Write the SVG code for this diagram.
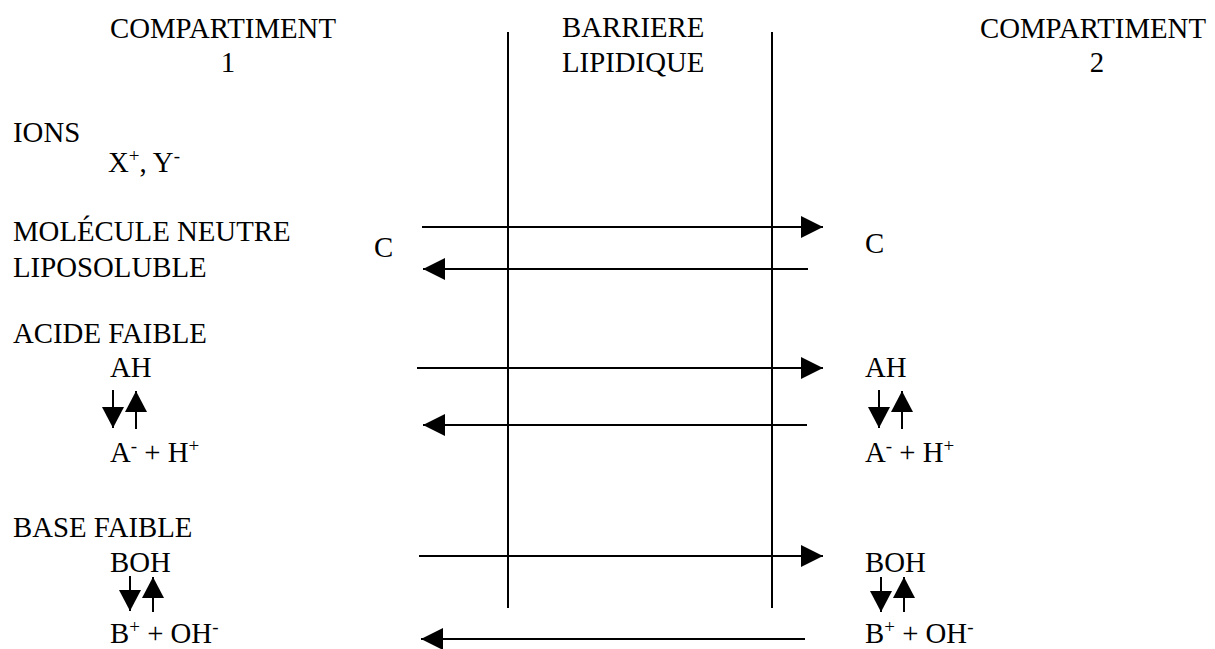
<svg xmlns="http://www.w3.org/2000/svg" width="1215" height="649" viewBox="0 0 1215 649">
<style>
text{font-family:'Liberation Serif','Times New Roman','DejaVu Serif',serif;font-size:28.8px;fill:#000}
.sup{font-size:19px}
.ln{stroke:#000;stroke-width:2;fill:none}
.arr{stroke:#000;stroke-width:2;fill:none;marker-end:url(#ah)}
.eq{stroke:#000;stroke-width:2;fill:none;marker-end:url(#ahs)}
</style>
<defs>
<marker id="ah" markerUnits="userSpaceOnUse" markerWidth="22" markerHeight="22" viewBox="0 0 20 20" refX="20" refY="10" orient="auto">
<path d="M0,0 L20,10 L0,20 Z" fill="#000"/>
</marker>
<marker id="ahs" markerUnits="userSpaceOnUse" markerWidth="22" markerHeight="22" viewBox="0 0 20 21" refX="20" refY="10.5" orient="auto">
<path d="M0,0 L20,10.5 L0,21 Z" fill="#000"/>
</marker>
</defs>
<rect width="1215" height="649" fill="#fff"/>
<g id="barrier">
<line class="ln" x1="508" y1="32" x2="508" y2="608"/>
<line class="ln" x1="772" y1="32" x2="772" y2="608"/>
</g>
<g font-family="Liberation Serif, Times New Roman, serif">
<g id="header-c1">
<text x="223" y="38" text-anchor="middle">COMPARTIMENT</text>
<text x="228" y="72" text-anchor="middle">1</text>
</g>
<g id="header-barrier">
<text x="562" y="37">BARRIERE</text>
<text x="562" y="72">LIPIDIQUE</text>
</g>
<g id="header-c2">
<text x="1093" y="38" text-anchor="middle">COMPARTIMENT</text>
<text x="1097" y="72" text-anchor="middle">2</text>
</g>
<g id="ions">
<text x="13" y="142">IONS</text>
<text x="108" y="172">X<tspan class="sup" dy="-10">+</tspan><tspan dy="10">, Y</tspan><tspan class="sup" dy="-10">-</tspan></text>
</g>
<g id="neutre">
<text x="13" y="241">MOLÉCULE NEUTRE</text>
<text x="13" y="277">LIPOSOLUBLE</text>
<text x="374" y="257">C</text>
<text x="865" y="253">C</text>
</g>
<g id="acide-1">
<text x="13" y="343">ACIDE FAIBLE</text>
<text x="110" y="377">AH</text>
<text x="110" y="462">A<tspan class="sup" dy="-10">-</tspan><tspan dy="10"> + H</tspan><tspan class="sup" dy="-10">+</tspan></text>
</g>
<g id="acide-2">
<text x="865" y="377">AH</text>
<text x="865" y="462">A<tspan class="sup" dy="-10">-</tspan><tspan dy="10"> + H</tspan><tspan class="sup" dy="-10">+</tspan></text>
</g>
<g id="base-1">
<text x="13" y="537">BASE FAIBLE</text>
<text x="110" y="572">BOH</text>
<text x="110" y="643">B<tspan class="sup" dy="-10">+</tspan><tspan dy="10"> + OH</tspan><tspan class="sup" dy="-10">-</tspan></text>
</g>
<g id="base-2">
<text x="865" y="572">BOH</text>
<text x="865" y="643">B<tspan class="sup" dy="-10">+</tspan><tspan dy="10"> + OH</tspan><tspan class="sup" dy="-10">-</tspan></text>
</g>
</g>
<g id="connectors">
<line class="arr" x1="422" y1="227" x2="823" y2="227"/>
<line class="arr" x1="808" y1="269" x2="423" y2="269"/>
<line class="arr" x1="417" y1="368" x2="823" y2="368"/>
<line class="arr" x1="807" y1="425" x2="423" y2="425"/>
<line class="arr" x1="419" y1="556" x2="823" y2="556"/>
<line class="arr" x1="805" y1="639" x2="421" y2="639"/>
<line class="eq" x1="113" y1="390" x2="113" y2="428"/>
<line class="eq" x1="136" y1="429" x2="136" y2="391"/>
<line class="eq" x1="879" y1="390" x2="879" y2="428"/>
<line class="eq" x1="902" y1="429" x2="902" y2="391"/>
<line class="eq" x1="130" y1="576" x2="130" y2="611"/>
<line class="eq" x1="153" y1="612" x2="153" y2="577"/>
<line class="eq" x1="881" y1="577" x2="881" y2="612"/>
<line class="eq" x1="904" y1="612" x2="904" y2="577"/>
</g>
</svg>
